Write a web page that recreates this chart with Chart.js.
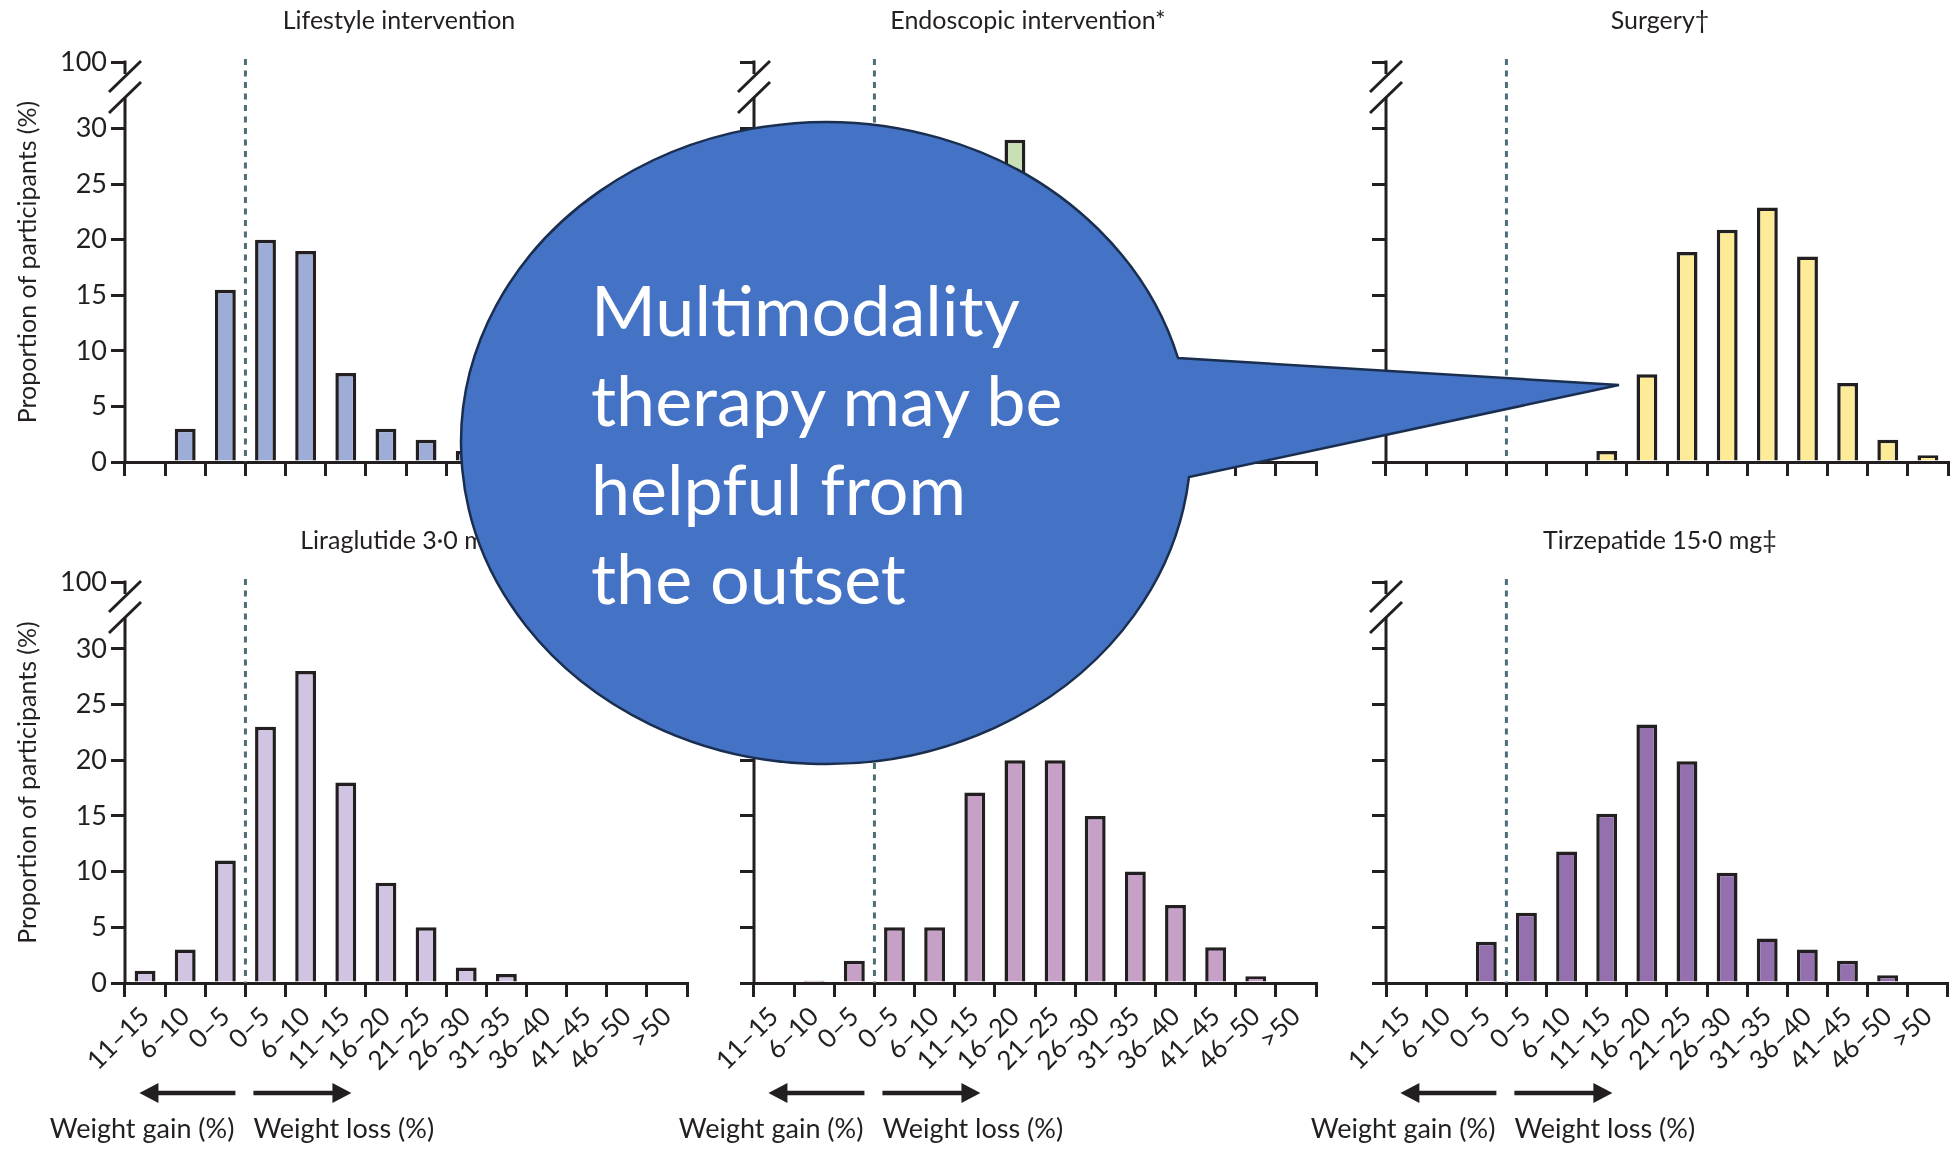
<!DOCTYPE html>
<html>
<head>
<meta charset="utf-8">
<script src="https://cdn.jsdelivr.net/npm/chart.js@4.4.1/dist/chart.umd.min.js"></script>
<style>
  html, body { margin: 0; padding: 0; background: #fff; overflow: hidden; }
  body { width: 1954px; height: 1149px; position: relative; font-family: Lato, sans-serif; }
  canvas { position: absolute; }
  #bubble { position: absolute; left: 0; top: 0; }
</style>
</head>
<body>
<canvas id="c1"></canvas>
<canvas id="c2"></canvas>
<canvas id="c3"></canvas>
<canvas id="c4"></canvas>
<canvas id="c5"></canvas>
<canvas id="c6"></canvas>

<svg id="bubble" width="1954" height="1149" viewBox="0 0 1954 1149">
  <path d="M 1178 358 A 365 321 0 1 0 1189 477 L 1619 385 Z" fill="#4472C4" stroke="#1A2E4F" stroke-width="2.5" stroke-linejoin="miter"/>
  <text fill="#ffffff" font-family="Lato, sans-serif" font-size="70">
    <tspan x="591" y="336">Multimodality</tspan>
    <tspan x="591" y="426">therapy may be</tspan>
    <tspan x="591" y="515">helpful from</tspan>
    <tspan x="591" y="604">the outset</tspan>
  </text>
</svg>

<script>
"use strict";

// Gewichtsänderung in %, links Zunahme, rechts Abnahme
const categories = ["11–15", "6–10", "0–5", "0–5", "6–10", "11–15", "16–20", "21–25", "26–30", "31–35", "36–40", "41–45", "46–50", ">50"];

// Anteil der Teilnehmer (%) je Kategorie
const lifestyle = [0, 3, 15.5, 20, 19, 8, 3, 2, 1, 0.5, 0, 0, 0, 0];
const endoscopic = [0, 0, 0.3, 1, 3, 12, 29, 21, 15, 8, 4, 1.5, 0.5, 0];
const surgery = [0, 0, 0, 0, 0, 1, 7.9, 18.9, 20.9, 22.9, 18.5, 7.1, 2, 0.6];
const liraglutide = [1.1, 3, 11, 23, 28, 18, 9, 5, 1.4, 0.8, 0, 0, 0, 0];
const semaglutide = [0, 0.2, 2, 5, 5, 17.1, 20, 20, 15, 10, 7, 3.2, 0.6, 0];
const tirzepatide = [0, 0, 3.7, 6.3, 11.8, 15.2, 23.2, 19.9, 9.9, 4, 3, 2, 0.7, 0];

// y-Achse: 0..30, dann Achsenbruch bis 100 (oberster Tick steht für 100)
const yTickValues = [0, 5, 10, 15, 20, 25, 30, 36];
const yTickLabels = ["0", "5", "10", "15", "20", "25", "30", "100"];

const INK = "#231F20";
const FONT = "Lato, sans-serif";

const panels = [
  { id: "c1", title: "Lifestyle intervention", values: lifestyle, color: "#9EADD8", col: 0, row: 0 },
  { id: "c2", title: "Endoscopic intervention*", values: endoscopic, color: "#C9E0B4", col: 1, row: 0 },
  { id: "c3", title: "Surgery†", values: surgery, color: "#FDEB97", col: 2, row: 0 },
  { id: "c4", title: "Liraglutide 3·0 mg", values: liraglutide, color: "#D1C4E2", col: 0, row: 1 },
  { id: "c5", title: "Semaglutide 2·4 mg", values: semaglutide, color: "#C6A0C6", col: 1, row: 1 },
  { id: "c6", title: "Tirzepatide 15·0 mg‡", values: tirzepatide, color: "#9570AF", col: 2, row: 1 },
];

// Geometrie der Plotflächen
const axisLeft = [125, 754, 1386];
const plotWidth = 562;
const rowTop = [0, 500];
const rowHeight = [500, 649];
const padTop = [62, 82];
const xAxisHeight = [38, 166];

function line(ctx, x1, y1, x2, y2) {
  ctx.beginPath();
  ctx.moveTo(x1, y1);
  ctx.lineTo(x2, y2);
  ctx.stroke();
}

function arrowHead(ctx, tipX, y, dir) {
  ctx.beginPath();
  ctx.moveTo(tipX, y);
  ctx.lineTo(tipX - dir * 19, y - 10);
  ctx.lineTo(tipX - dir * 19, y + 10);
  ctx.closePath();
  ctx.fill();
}

function panelDecor({ title, bottomRow }) {
  return {
    id: "panelDecor",
    afterDraw(chart) {
      const { ctx, chartArea: a, scales } = chart;
      const L = a.left;
      const T = a.top;
      ctx.save();

      // y-Achse mit Bruch
      ctx.strokeStyle = INK;
      ctx.lineWidth = 3;
      line(ctx, L, T - 1.5, L, T + 12);
      line(ctx, L - 16, T + 30, L + 16, T - 1);
      line(ctx, L - 16, T + 51, L + 16, T + 20);
      line(ctx, L, T + 35, L, a.bottom + 1.5);

      // gestrichelte Linie zwischen Zunahme und Abnahme
      const zx = (scales.x.getPixelForValue(2) + scales.x.getPixelForValue(3)) / 2;
      ctx.strokeStyle = "#4E6D77";
      ctx.lineWidth = 3;
      ctx.setLineDash([6, 5.5]);
      line(ctx, zx, T - 3, zx, a.bottom);
      ctx.setLineDash([]);

      // Titel
      ctx.fillStyle = INK;
      ctx.font = `25px ${FONT}`;
      ctx.textAlign = "center";
      ctx.textBaseline = "middle";
      ctx.fillText(title, (a.left + a.right) / 2 - 7, T - 41);

      if (bottomRow) {
        const ay = a.bottom + 110;
        ctx.strokeStyle = INK;
        ctx.lineWidth = 4.5;
        line(ctx, zx - 10, ay, zx - 90, ay);
        line(ctx, zx + 8, ay, zx + 90, ay);
        arrowHead(ctx, zx - 106, ay, -1);
        arrowHead(ctx, zx + 106, ay, 1);

        ctx.font = `27px ${FONT}`;
        ctx.textBaseline = "middle";
        ctx.textAlign = "right";
        ctx.fillText("Weight gain (%)", zx - 11, a.bottom + 146);
        ctx.textAlign = "left";
        ctx.fillText("Weight loss (%)", zx + 8, a.bottom + 146);
      }
      ctx.restore();
    },
  };
}

function makePanel(p) {
  const canvas = document.getElementById(p.id);
  const bottomRow = p.row === 1;
  const firstCol = p.col === 0;
  const yw = firstCol ? 125 : 110;
  const pr = p.col === 2 ? 6 : 22;
  const left = axisLeft[p.col] - yw;

  canvas.width = yw + plotWidth + pr;
  canvas.height = rowHeight[p.row];
  canvas.style.left = left + "px";
  canvas.style.top = rowTop[p.row] + "px";

  return new Chart(canvas, {
    type: "bar",
    data: {
      labels: categories,
      datasets: [{
        data: p.values,
        backgroundColor: p.color,
        borderColor: INK,
        borderWidth: 3.5,
        borderSkipped: "start",
        categoryPercentage: 1,
        barPercentage: 0.52,
      }],
    },
    options: {
      responsive: false,
      animation: false,
      layout: { padding: { top: padTop[p.row], right: pr, bottom: 0, left: 0 } },
      plugins: {
        legend: { display: false },
        tooltip: { enabled: false },
        title: { display: false },
      },
      scales: {
        x: {
          offset: true,
          grid: { offset: true, drawOnChartArea: false, color: INK, lineWidth: 3, tickLength: 14 },
          border: { display: true, color: INK, width: 3 },
          ticks: {
            display: bottomRow,
            color: INK,
            font: { family: FONT, size: 26 },
            minRotation: 45,
            maxRotation: 45,
            autoSkip: false,
            padding: 4,
          },
          afterFit: (s) => { s.height = xAxisHeight[p.row]; },
        },
        y: {
          min: 0,
          max: 36,
          afterBuildTicks: (s) => { s.ticks = yTickValues.map((v) => ({ value: v })); },
          grid: { drawOnChartArea: false, color: INK, lineWidth: 3, tickLength: 14 },
          border: { display: false },
          ticks: {
            display: firstCol,
            color: INK,
            font: { family: FONT, size: 27 },
            padding: 4,
            callback: (v) => yTickLabels[yTickValues.indexOf(v)],
          },
          title: {
            display: firstCol,
            text: "Proportion of participants (%)",
            color: INK,
            font: { family: FONT, size: 25 },
            padding: { top: 13, bottom: 0 },
          },
          afterFit: (s) => { s.width = yw; },
        },
      },
    },
    plugins: [panelDecor({ title: p.title, bottomRow })],
  });
}

panels.forEach(makePanel);
</script>
</body>
</html>
